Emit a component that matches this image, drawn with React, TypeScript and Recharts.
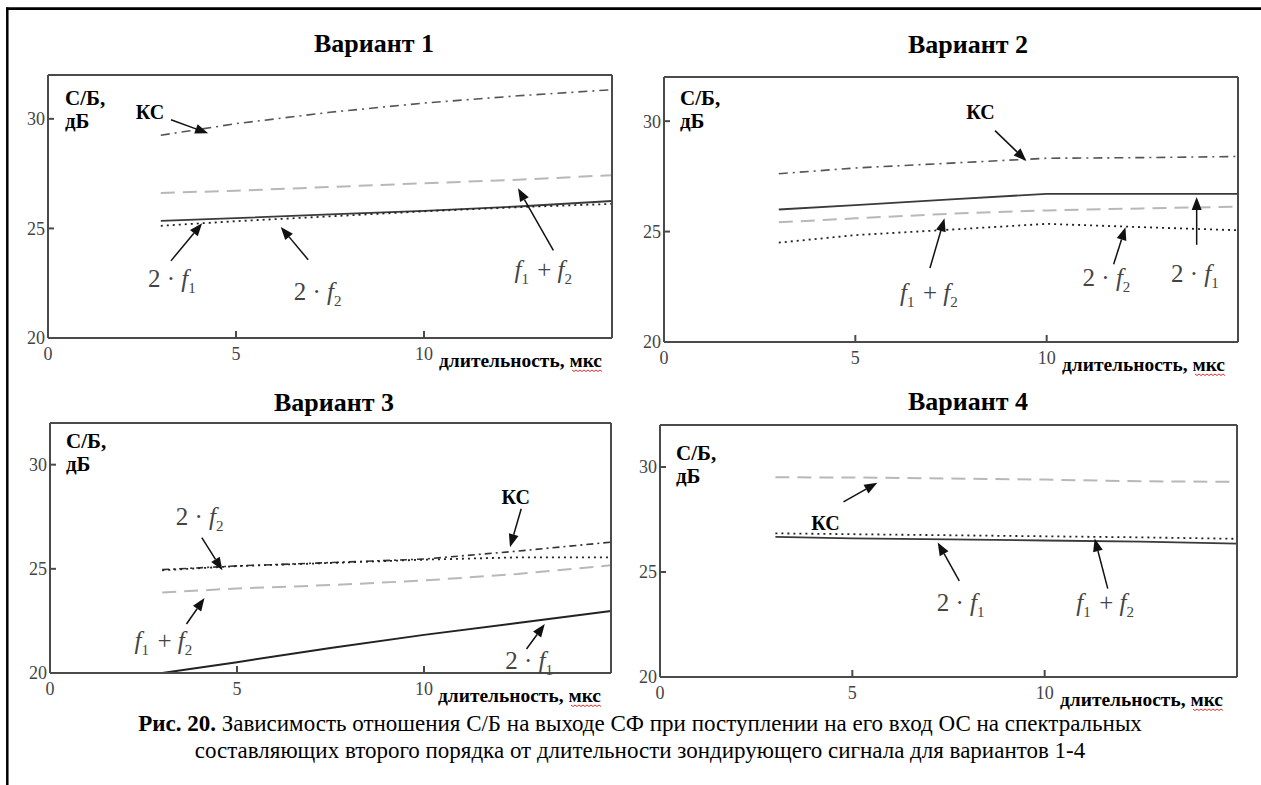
import React from 'react';
import { LineChart, Line, XAxis, YAxis, ReferenceLine, ReferenceDot } from 'recharts';

const FONT = '"Liberation Serif", "DejaVu Serif", serif';

// длительность, мкс
const durations = [3, 5, 7.5, 10, 12.5, 15];
const xTicks = [0, 5, 10];
const yTicks = [20, 25, 30];

// Вариант 1
const v1Ks = [29.25, 29.78, 30.3, 30.72, 31.05, 31.33];
const v1Sum = [26.62, 26.72, 26.89, 27.06, 27.22, 27.43];
const v1F1 = [25.34, 25.47, 25.64, 25.8, 26.0, 26.25];
const v1F2 = [25.12, 25.33, 25.55, 25.78, 25.97, 26.12];

// Вариант 2
const v2Ks = [27.62, 27.88, 28.1, 28.32, 28.35, 28.4];
const v2F1 = [26.0, 26.2, 26.46, 26.71, 26.71, 26.71];
const v2Sum = [25.42, 25.6, 25.81, 25.96, 26.05, 26.13];
const v2F2 = [24.5, 24.84, 25.09, 25.35, 25.2, 25.06];

// Вариант 3
const v3Ks = [24.96, 25.14, 25.3, 25.47, 25.85, 26.28];
const v3F2 = [24.93, 25.13, 25.28, 25.44, 25.55, 25.55];
const v3Sum = [23.86, 24.06, 24.22, 24.44, 24.75, 25.17];
const v3F1 = [20.0, 20.52, 21.2, 21.83, 22.4, 22.98];

// Вариант 4
const v4Ks = [29.51, 29.5, 29.45, 29.4, 29.32, 29.29];
const v4Sum = [26.84, 26.8, 26.75, 26.7, 26.65, 26.58];
const v4F1 = [26.67, 26.6, 26.55, 26.5, 26.45, 26.35];

// annotation arrows: [fromX, fromY, toX, toY] and labels: [x, y, kind]
const v1Arrows = [[3.27, 29.96, 4.26, 29.34], [3.27, 23.52, 4.1, 25.24], [6.92, 23.57, 6.19, 25.07], [13.44, 24.0, 12.5, 26.83]];
const v1Labels: [number, number, string][] = [[2.71, 30.29, 'ks'], [3.32, 22.7, 'f1'], [7.2, 22.1, 'f2'], [13.2, 23.08, 'sum']];
const v2Arrows = [[8.65, 29.57, 9.47, 28.2], [6.95, 23.35, 7.33, 25.6], [11.75, 23.52, 12.06, 25.2], [13.92, 24.4, 13.92, 26.57]];
const v2Labels: [number, number, string][] = [[8.27, 30.43, 'ks'], [6.95, 22.2, 'sum'], [11.59, 22.9, 'f2'], [13.9, 23.06, 'f1']];
const v3Arrows = [[4.06, 26.5, 4.61, 24.93], [12.6, 27.88, 12.3, 26.04], [3.65, 22.35, 4.13, 23.6], [12.74, 21.15, 13.23, 22.35]];
const v3Labels: [number, number, string][] = [[4.03, 27.51, 'f2'], [12.45, 28.43, 'ks'], [3.06, 21.52, 'sum'], [12.84, 20.6, 'f1']];
const v4Arrows = [[4.77, 28.34, 5.65, 29.25], [7.78, 24.58, 7.22, 26.41], [11.64, 24.21, 11.3, 26.6]];
const v4Labels: [number, number, string][] = [[4.3, 27.33, 'ks'], [7.84, 23.53, 'f1'], [11.6, 23.53, 'sum']];

const KS = { stroke: '#555', strokeWidth: 1.6, strokeDasharray: '9 5 2 5' };
const KS_DARK = { stroke: '#333', strokeWidth: 1.6, strokeDasharray: '7 4 2 4' };
const SUM = { stroke: '#b8b8b8', strokeWidth: 2, strokeDasharray: '14 8' };
const SOLID = { stroke: '#3a3a3a', strokeWidth: 1.8 };
const DOTTED = { stroke: '#222', strokeWidth: 1.8, strokeDasharray: '2 4' };

const rows = (cols: Record<string, number[]>) =>
  durations.map((t, i) => {
    const r: Record<string, number> = { t };
    Object.keys(cols).forEach((k) => (r[k] = cols[k][i]));
    return r;
  });

const ArrowShape = (p: any) => {
  const { x1, y1, x2, y2 } = p;
  if ([x1, y1, x2, y2].some((v) => typeof v !== 'number' || isNaN(v))) return <g />;
  const a = Math.atan2(y2 - y1, x2 - x1);
  const len = 13;
  const half = 5;
  const bx = x2 - len * Math.cos(a);
  const by = y2 - len * Math.sin(a);
  const px = -Math.sin(a) * half;
  const py = Math.cos(a) * half;
  return (
    <g>
      <line x1={x1} y1={y1} x2={bx} y2={by} stroke="#111" strokeWidth={1.5} />
      <polygon points={`${x2},${y2} ${bx + px},${by + py} ${bx - px},${by - py}`} fill="#111" />
    </g>
  );
};

const labelShape = (kind: string) => (p: any) => {
  const { cx, cy } = p;
  if (kind === 'ks') {
    return (
      <text x={cx} y={cy + 7} textAnchor="middle" fontFamily={FONT} fontWeight="bold" fontSize={20} fill="#000">
        КС
      </text>
    );
  }
  const f = (n: string, key: string) => [
    <tspan key={key + 'f'} fontStyle="italic">f</tspan>,
    <tspan key={key + 's'} dy={6} fontSize={15}>{n}</tspan>,
    <tspan key={key + 'r'} dy={-6}>{'\u200a'}</tspan>,
  ];
  let content: any;
  if (kind === 'f1') content = [<tspan key="a">2 · </tspan>, ...f('1', 'x')];
  else if (kind === 'f2') content = [<tspan key="a">2 · </tspan>, ...f('2', 'x')];
  else content = [...f('1', 'x'), <tspan key="p"> + </tspan>, ...f('2', 'y')];
  return (
    <text x={cx} y={cy + 8} textAnchor="middle" fontFamily={FONT} fontSize={25} fill="#444">
      {content}
    </text>
  );
};

type Series = { key: string; values: number[]; style: any };

interface PanelProps {
  left: number;
  top: number;
  plotW: number;
  plotH: number;
  series: Series[];
  arrows: number[][];
  labels: [number, number, string][];
}

const AX = '#4a4a4a';

const Panel: React.FC<PanelProps> = ({ left, top, plotW, plotH, series, arrows, labels }) => {
  const cols: Record<string, number[]> = {};
  series.forEach((s) => (cols[s.key] = s.values));
  const data = rows(cols);
  const tickStyle = { fontSize: 18, fill: '#444', fontFamily: FONT };
  return (
    <div style={{ position: 'absolute', left, top }}>
      <LineChart
        width={plotW + 50}
        height={plotH + 40}
        data={data}
        margin={{ top: 9, right: 9, bottom: 9, left: 9 }}
      >
        <XAxis
          xAxisId="b"
          dataKey="t"
          type="number"
          domain={[0, 15]}
          ticks={xTicks}
          interval={0}
          height={31}
          tickSize={-7}
          tickMargin={16}
          tick={tickStyle}
          axisLine={{ stroke: AX, strokeWidth: 2 }}
          tickLine={{ stroke: AX, strokeWidth: 2 }}
        />
        <XAxis
          xAxisId="t"
          orientation="top"
          dataKey="t"
          type="number"
          domain={[0, 15]}
          ticks={[5, 10]}
          interval={0}
          height={1}
          tickSize={-7}
          tick={false}
          axisLine={{ stroke: AX, strokeWidth: 2 }}
          tickLine={{ stroke: AX, strokeWidth: 2 }}
        />
        <YAxis
          yAxisId="l"
          type="number"
          domain={[20, 32]}
          ticks={yTicks}
          interval={0}
          width={31}
          tickSize={-6}
          tickMargin={9}
          tick={tickStyle}
          axisLine={{ stroke: AX, strokeWidth: 2 }}
          tickLine={{ stroke: AX, strokeWidth: 2 }}
        />
        <YAxis
          yAxisId="r"
          orientation="right"
          type="number"
          domain={[20, 32]}
          ticks={[25, 30]}
          interval={0}
          width={1}
          tickSize={-6}
          tick={false}
          axisLine={{ stroke: AX, strokeWidth: 2 }}
          tickLine={{ stroke: AX, strokeWidth: 2 }}
        />
        {series.map((s) => (
          <Line
            key={s.key}
            xAxisId="b"
            yAxisId="l"
            dataKey={s.key}
            type="linear"
            dot={false}
            activeDot={false}
            isAnimationActive={false}
            {...s.style}
          />
        ))}
        {arrows.map((a, i) => (
          <ReferenceLine
            key={'a' + i}
            xAxisId="b"
            yAxisId="l"
            segment={[{ x: a[0], y: a[1] }, { x: a[2], y: a[3] }]}
            ifOverflow="visible"
            shape={ArrowShape}
          />
        ))}
        {labels.map((l, i) => (
          <ReferenceDot
            key={'l' + i}
            xAxisId="b"
            yAxisId="l"
            x={l[0]}
            y={l[1]}
            r={1}
            ifOverflow="visible"
            shape={labelShape(l[2])}
          />
        ))}
      </LineChart>
    </div>
  );
};

const titles = ['Вариант 1', 'Вариант 2', 'Вариант 3', 'Вариант 4'];
const titlePos = [[374, 52], [968, 53], [334, 411], [968, 410]];
const yLabelPos = [[65, 105], [680, 105], [66, 448], [676, 460]];
const xTitlePos = [[439, 367], [1062, 371], [438, 702], [1060, 706]];

const Squiggle = ({ x, y }: { x: number; y: number }) => {
  const pts: string[] = [];
  for (let i = 0; i <= 15; i++) pts.push(`${x + i * 2},${y + (i % 2 ? 1.5 : 0)}`);
  return <polyline points={pts.join(' ')} fill="none" stroke="#e03030" strokeWidth={1} />;
};

export default function App() {
  return (
    <div style={{ position: 'absolute', left: 0, top: 0, width: 1261, height: 785, background: '#fff', overflow: 'hidden' }}>
      <Panel
        left={8}
        top={65}
        plotW={564}
        plotH={273}
        series={[
          { key: 'ks', values: v1Ks, style: KS },
          { key: 'sum', values: v1Sum, style: SUM },
          { key: 'f1', values: v1F1, style: SOLID },
          { key: 'f2', values: v1F2, style: DOTTED },
        ]}
        arrows={v1Arrows}
        labels={v1Labels}
      />
      <Panel
        left={624}
        top={67}
        plotW={574}
        plotH={275}
        series={[
          { key: 'ks', values: v2Ks, style: KS },
          { key: 'f1', values: v2F1, style: SOLID },
          { key: 'sum', values: v2Sum, style: SUM },
          { key: 'f2', values: v2F2, style: DOTTED },
        ]}
        arrows={v2Arrows}
        labels={v2Labels}
      />
      <Panel
        left={10}
        top={413}
        plotW={561}
        plotH={260}
        series={[
          { key: 'sum', values: v3Sum, style: SUM },
          { key: 'f1', values: v3F1, style: { ...SOLID, stroke: '#222', strokeWidth: 2 } },
          { key: 'ks', values: v3Ks, style: KS_DARK },
          { key: 'f2', values: v3F2, style: DOTTED },
        ]}
        arrows={v3Arrows}
        labels={v3Labels}
      />
      <Panel
        left={620}
        top={415}
        plotW={577}
        plotH={262}
        series={[
          { key: 'ks', values: v4Ks, style: SUM },
          { key: 'f1', values: v4F1, style: SOLID },
          { key: 'sum', values: v4Sum, style: DOTTED },
        ]}
        arrows={v4Arrows}
        labels={v4Labels}
      />
      <svg width={1261} height={785} style={{ position: 'absolute', left: 0, top: 0, pointerEvents: 'none' }}>
        <line x1={6} y1={8.7} x2={1261} y2={8.7} stroke="#000" strokeWidth={2.7} />
        <line x1={7.3} y1={7.5} x2={7.3} y2={785} stroke="#000" strokeWidth={2.5} />
        {titles.map((t, i) => (
          <text key={t} x={titlePos[i][0]} y={titlePos[i][1]} textAnchor="middle" fontFamily={FONT} fontWeight="bold" fontSize={26} fill="#000">
            {t}
          </text>
        ))}
        {yLabelPos.map((p, i) => (
          <g key={'y' + i} fontFamily={FONT} fontWeight="bold" fontSize={21} fill="#000">
            <text x={p[0]} y={p[1]}>С/Б,</text>
            <text x={p[0]} y={p[1] + 23}>дБ</text>
          </g>
        ))}
        {xTitlePos.map((p, i) => (
          <g key={'x' + i}>
            <text x={p[0]} y={p[1]} fontFamily={FONT} fontWeight="bold" fontSize={18} fill="#000" textLength={163} lengthAdjust="spacingAndGlyphs">
              длительность, мкс
            </text>
            <Squiggle x={p[0] + 133} y={p[1] + 3} />
          </g>
        ))}
        <text x={640} y={731} textAnchor="middle" fontFamily={FONT} fontSize={23} fill="#000">
          <tspan fontWeight="bold">Рис. 20.</tspan> Зависимость отношения С/Б на выходе СФ при поступлении на его вход ОС на спектральных
        </text>
        <text x={640} y={758} textAnchor="middle" fontFamily={FONT} fontSize={23} fill="#000">
          составляющих второго порядка от длительности зондирующего сигнала для вариантов 1-4
        </text>
      </svg>
    </div>
  );
}
